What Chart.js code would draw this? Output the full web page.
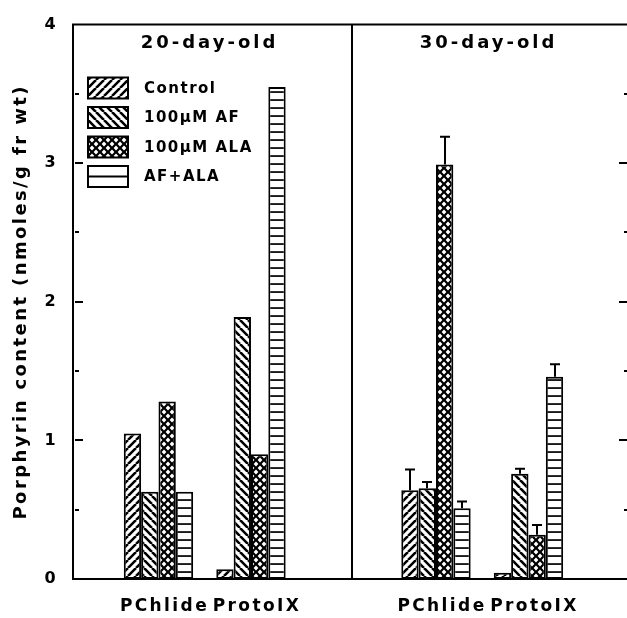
<!DOCTYPE html>
<html><head><meta charset="utf-8">
<script src="https://cdn.jsdelivr.net/npm/chart.js@4"></script>
<style>html,body{margin:0;padding:0;background:#fff;overflow:hidden}#wrap{width:627px;height:618px}</style>
</head><body><div id="wrap"><canvas id="c" width="627" height="618"></canvas></div>
<script>
// ---- data ----
const panels = ['20-day-old', '30-day-old'];
const groups = ['PChlide', 'ProtoIX'];
const seriesNames = ['Control', '100\u03bcM AF', '100\u03bcM ALA', 'AF+ALA'];
// bar order: 20d PChlide, 20d ProtoIX, 30d PChlide, 30d ProtoIX
const control = [1.05, 0.07, 0.64, 0.045];
const af      = [0.63, 1.89, 0.655, 0.76];
const ala     = [1.28, 0.90, 2.99, 0.32];
const afAla   = [0.63, 3.55, 0.51, 1.46];
const controlErr = [null, null, 0.15, null];
const afErr      = [null, null, 0.045, 0.035];
const alaErr     = [null, null, 0.20, 0.07];
const afAlaErr   = [null, null, 0.05, 0.09];
const yTickLabels = [0, 1, 2, 3, 4];
const yTitle = 'Porphyrin content (nmoles/g fr wt)';

// ---- derived ----
const pos = [];
panels.forEach((p, pi) => groups.forEach((g, gi) => pos.push(pi * 3 + gi + 1)));
const series = [control, af, ala, afAla];
const errs = [controlErr, afErr, alaErr, afAlaErr];
const FONT = '"DejaVu Sans", sans-serif';
const SPACING = '2.4px';

function makePattern(kind) {
  const s = 8;
  const c = document.createElement('canvas'); c.width = s; c.height = s;
  const g = c.getContext('2d');
  g.fillStyle = '#fff'; g.fillRect(0, 0, s, s);
  g.strokeStyle = '#000'; g.fillStyle = '#000';
  if (kind === 'up' || kind === 'down') {
    g.lineWidth = 2.6;
    g.beginPath();
    for (let k = -1; k <= 1; k++) {
      if (kind === 'up') { g.moveTo(k * s, s); g.lineTo(k * s + s, 0); }
      else { g.moveTo(k * s, 0); g.lineTo(k * s + s, s); }
    }
    g.stroke();
  } else if (kind === 'cross') {
    g.fillStyle = '#000'; g.fillRect(0, 0, s, s);
    g.fillStyle = '#fff';
    const dia = (cx, cy, r) => { g.beginPath(); g.moveTo(cx - r, cy); g.lineTo(cx, cy - r); g.lineTo(cx + r, cy); g.lineTo(cx, cy + r); g.closePath(); g.fill(); };
    dia(4, 4, 2.4); dia(0, 0, 2.4); dia(8, 0, 2.4); dia(0, 8, 2.4); dia(8, 8, 2.4);
  } else {
    g.fillRect(0, 3.2, s, 1.7);
  }
  return g.createPattern(c, 'repeat');
}
const patterns = [makePattern('up'), makePattern('down'), makePattern('cross'), makePattern('horiz')];

const framePlugin = {
  id: 'frame',
  beforeUpdate(ch) { ch.ctx.letterSpacing = SPACING; },
  beforeLayout(ch) { ch.ctx.letterSpacing = SPACING; },
  beforeDraw(ch) { ch.ctx.letterSpacing = SPACING; },
  afterDatasetsDraw(ch) {
    const ctx = ch.ctx, a = ch.chartArea, xs = ch.scales.x, ys = ch.scales.y;
    ctx.save();
    ctx.strokeStyle = '#000'; ctx.lineWidth = 2; ctx.lineCap = 'butt';
    // top border
    ctx.beginPath(); ctx.moveTo(a.left - 1, a.top); ctx.lineTo(a.right, a.top); ctx.stroke();
    // panel divider
    const dx = Math.round(xs.getPixelForValue(3.092));
    ctx.beginPath(); ctx.moveTo(dx, a.top); ctx.lineTo(dx, a.bottom); ctx.stroke();
    // inner tick marks (left and right)
    ys.ticks.forEach(t => {
      const py = Math.round(ys.getPixelForValue(t.value));
      if (t.value <= 0 || t.value >= 4) return;
      const major = Number.isInteger(t.value);
      ctx.beginPath();
      ctx.moveTo(a.left + 2, py); ctx.lineTo(a.left + (major ? 10 : 6), py);
      ctx.moveTo(a.right, py); ctx.lineTo(a.right - (major ? 8 : 3), py);
      ctx.stroke();
    });
    // error bars
    ch.data.datasets.forEach((ds, di) => {
      const meta = ch.getDatasetMeta(di);
      errs[di].forEach((e, i) => {
        if (e == null) return;
        const el = meta.data[i];
        const v = series[di][i];
        const x = Math.round(el.x);
        const y0 = ys.getPixelForValue(v), y1 = ys.getPixelForValue(v + e);
        ctx.beginPath();
        ctx.moveTo(x, y0); ctx.lineTo(x, y1);
        ctx.moveTo(x - 5, y1); ctx.lineTo(x + 5, y1);
        ctx.stroke();
      });
    });
    // panel titles
    ctx.fillStyle = '#000';
    ctx.font = 'bold 18px ' + FONT;
    ctx.letterSpacing = '3px';
    ctx.textAlign = 'center'; ctx.textBaseline = 'alphabetic';
    const bounds = [a.left, dx, xs.getPixelForValue(6.11)];
    panels.forEach((p, pi) => {
      ctx.fillText(p, (bounds[pi] + bounds[pi + 1]) / 2 - 3, 48);
    });
    // legend
    ctx.font = 'bold 15px ' + FONT;
    ctx.letterSpacing = '1.5px';
    ctx.textAlign = 'left'; ctx.textBaseline = 'middle';
    seriesNames.forEach((n, i) => {
      const cy = 88 + i * 29.5;
      const bx = 88, bw = 40, bh = 21;
      if (i === 3) {
        ctx.fillStyle = '#fff';
        ctx.fillRect(bx, cy - bh / 2, bw, bh);
        ctx.fillStyle = '#000';
        ctx.fillRect(bx, cy - 1, bw, 2);
      } else {
        ctx.fillStyle = patterns[i];
        ctx.fillRect(bx, cy - bh / 2, bw, bh);
      }
      ctx.lineWidth = 2; ctx.strokeStyle = '#000';
      ctx.strokeRect(bx, cy - bh / 2, bw, bh);
      ctx.fillStyle = '#000';
      ctx.fillText(n, 144, cy + 1);
    });
    ctx.restore();
    ctx.letterSpacing = SPACING;
  }
};

const ctx = document.getElementById('c').getContext('2d');
new Chart(ctx, {
  type: 'bar',
  data: {
    datasets: series.map((s, si) => ({
      label: seriesNames[si],
      data: s.map((v, i) => ({ x: pos[i], y: v })),
      backgroundColor: patterns[si],
      borderColor: '#000',
      borderWidth: 2,
      borderSkipped: false,
      categoryPercentage: 0.75,
      barPercentage: 1.0
    }))
  },
  options: {
    responsive: false, animation: false, devicePixelRatio: 1,
    layout: { padding: { top: 19, left: 0, right: 0, bottom: 0 } },
    plugins: { legend: { display: false }, tooltip: { enabled: false } },
    scales: {
      x: {
        type: 'linear', min: 0.076, max: 6.065, offset: false,
        grid: { display: false, drawTicks: false },
        border: { display: true, color: '#000', width: 2 },
        afterBuildTicks: s => { s.ticks = pos.map(v => ({ value: v })); },
        afterFit: s => { s.height = 39; },
        ticks: {
          autoSkip: false, maxRotation: 0, padding: 17, color: '#000', labelOffset: 6,
          font: { family: FONT, weight: 'bold', size: 17 },
          callback: v => groups[(Math.round(v) - 1) % 3]
        }
      },
      y: {
        min: 0, max: 4,
        grid: { display: false, drawTicks: false },
        border: { display: true, color: '#000', width: 2 },
        afterFit: s => { s.width = 73; },
        ticks: {
          stepSize: 0.5, padding: 15, color: '#000',
          font: { family: FONT, weight: 'bold', size: 16 },
          callback: v => (yTickLabels.includes(v) ? String(v) : '')
        },
        title: {
          display: true, text: yTitle, color: '#000',
          font: { family: FONT, weight: 'bold', size: 18 },
          padding: { top: 11, bottom: 0 }
        }
      }
    }
  },
  plugins: [framePlugin]
});
</script>
</body></html>
